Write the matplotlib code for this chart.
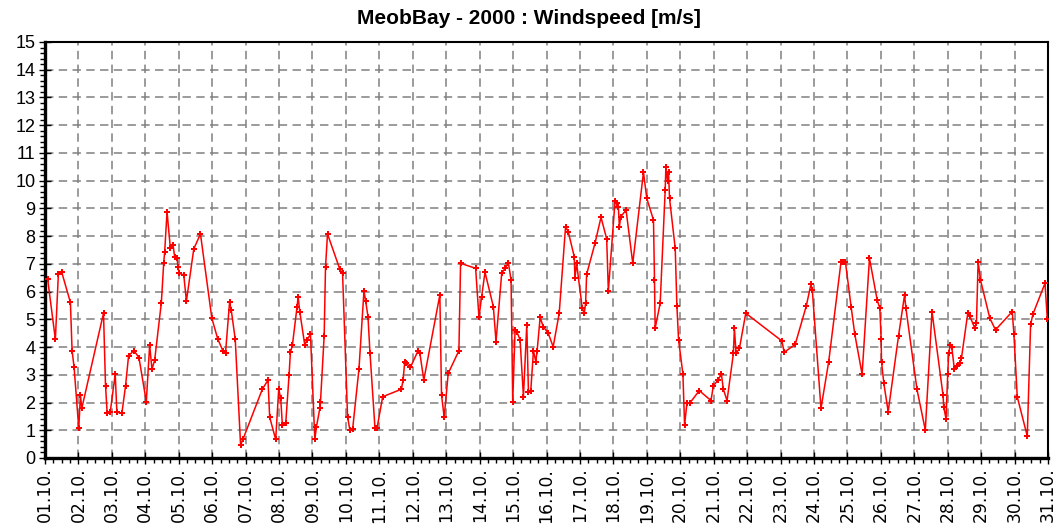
import matplotlib
import matplotlib.pyplot as plt
from matplotlib.ticker import MultipleLocator

matplotlib.use("Agg")

# time in days since 01.10. 00:00, wind speed in m/s
days = [
    0.08, 0.31, 0.40, 0.50, 0.76, 0.81, 0.87, 1.01, 1.06, 1.10,
    1.75, 1.81, 1.86, 1.95, 2.10, 2.15, 2.30, 2.41, 2.50, 2.66,
    2.81, 3.03, 3.13, 3.20, 3.28, 3.48, 3.55, 3.58, 3.65, 3.75,
    3.83, 3.88, 3.95, 3.98, 4.01, 4.15, 4.23, 4.45, 4.65, 4.99,
    5.17, 5.32, 5.40, 5.52, 5.57, 5.69, 5.85, 5.92, 6.50, 6.67,
    6.72, 6.90, 6.99, 7.05, 7.10, 7.20, 7.30, 7.34, 7.40, 7.54,
    7.57, 7.62, 7.77, 7.84, 7.94, 8.07, 8.12, 8.22, 8.24, 8.35,
    8.39, 8.45, 8.82, 8.90, 9.05, 9.12, 9.20, 9.39, 9.54, 9.59,
    9.66, 9.72, 9.87, 9.93, 10.10, 10.66, 10.71, 10.76, 10.81, 10.93,
    11.16, 11.21, 11.33, 11.81, 11.86, 11.94, 12.06, 12.38, 12.43, 12.88,
    12.98, 13.06, 13.16, 13.41, 13.49, 13.66, 13.76, 13.86, 13.94, 13.99,
    14.06, 14.11, 14.21, 14.31, 14.41, 14.46, 14.53, 14.61, 14.68, 14.72,
    14.81, 14.90, 15.05, 15.20, 15.38, 15.57, 15.65, 15.83, 15.85, 15.90,
    16.07, 16.13, 16.17, 16.20, 16.45, 16.63, 16.80, 16.85, 17.05, 17.10,
    17.15, 17.18, 17.22, 17.38, 17.58, 17.90, 18.00, 18.20, 18.23, 18.25,
    18.40, 18.55, 18.57, 18.62, 18.65, 18.68, 18.85, 18.90, 18.95, 19.08,
    19.13, 19.20, 19.28, 19.57, 19.92, 19.99, 20.13, 20.23, 20.29, 20.40,
    20.59, 20.62, 20.67, 20.77, 20.96, 22.04, 22.11, 22.44, 22.77, 22.91,
    22.95, 23.21, 23.44, 23.81, 23.87, 23.94, 24.11, 24.22, 24.44, 24.66,
    24.89, 24.97, 25.01, 25.02, 25.09, 25.22, 25.53, 25.71, 25.75, 26.08,
    26.33, 26.53, 26.86, 26.88, 26.95, 27.00, 27.03, 27.08, 27.12, 27.20,
    27.28, 27.36, 27.41, 27.60, 27.66, 27.81, 27.86, 27.91, 27.98, 28.26,
    28.43, 28.93, 28.98, 29.08, 29.38, 29.48, 29.55, 29.91, 29.98,
]
speed = [
    6.44, 4.28, 6.64, 6.70, 5.61, 3.87, 3.27, 1.07, 2.27, 1.79,
    5.22, 2.61, 1.61, 1.65, 3.02, 1.65, 1.62, 2.61, 3.69, 3.87,
    3.62, 2.03, 4.07, 3.20, 3.53, 5.60, 7.02, 7.44, 8.88, 7.56,
    7.68, 7.24, 7.20, 6.88, 6.66, 6.60, 5.66, 7.54, 8.08, 5.04,
    4.28, 3.87, 3.80, 5.61, 5.34, 4.28, 0.47, 0.67, 2.48, 2.81,
    1.47, 0.67, 2.48, 2.15, 1.19, 1.25, 2.99, 3.81, 4.07, 5.46,
    5.82, 5.28, 4.07, 4.26, 4.47, 0.67, 1.13, 1.79, 2.03, 4.41,
    6.88, 8.08, 6.80, 6.66, 1.47, 1.01, 1.03, 3.20, 6.02, 5.67,
    5.10, 3.80, 1.07, 1.07, 2.21, 2.48, 2.81, 3.47, 3.41, 3.27,
    3.87, 3.80, 2.81, 5.88, 2.27, 1.47, 3.05, 3.87, 7.02, 6.84,
    5.07, 5.82, 6.70, 5.46, 4.20, 6.66, 6.84, 7.04, 6.42, 2.03,
    4.62, 4.56, 4.26, 2.21, 4.80, 2.39, 2.43, 3.87, 3.47, 3.87,
    5.07, 4.74, 4.50, 4.01, 5.22, 8.34, 8.16, 7.26, 6.48, 7.02,
    5.40, 5.22, 5.58, 6.62, 7.74, 8.68, 7.90, 6.02, 9.27, 9.18,
    9.06, 8.34, 8.70, 8.94, 7.02, 10.30, 9.36, 8.58, 6.42, 4.68,
    5.58, 9.66, 10.48, 9.97, 10.30, 9.36, 7.56, 5.49, 4.26, 3.03,
    1.19, 1.97, 1.97, 2.43, 2.07, 2.60, 2.81, 3.03, 2.48, 2.07,
    3.77, 4.68, 3.77, 3.95, 5.22, 4.22, 3.81, 4.10, 5.48, 6.27,
    6.06, 1.79, 3.47, 7.08, 7.08, 7.08, 5.46, 4.47, 3.02, 7.20,
    5.70, 5.40, 4.28, 3.47, 2.69, 1.67, 4.41, 5.88, 5.40, 2.48,
    1.01, 5.28, 2.27, 1.85, 1.41, 3.02, 3.80, 4.07, 4.01, 3.20,
    3.32, 3.44, 3.59, 5.22, 5.12, 4.68, 4.86, 7.08, 6.42, 5.04,
    4.62, 5.28, 4.47, 2.21, 0.79, 4.82, 5.19, 6.30, 5.00,
]
day_labels = [f"{d:02d}.10." for d in range(1, 32)]
y_ticks = list(range(0, 16))


def main() -> None:
    fig = plt.figure(figsize=(10.57, 5.29), dpi=100)
    ax = fig.add_axes([45 / 1057, 1 - 458 / 529, 1003 / 1057, 416 / 529])

    ax.plot(days, speed, color="#ff0000", linewidth=1.1,
            marker="P", markersize=5, markeredgewidth=0, zorder=3)

    ax.set_xlim(0, 30)
    ax.set_ylim(0, 15)
    ax.set_xticks(range(31))
    ax.set_xticklabels(day_labels, rotation=90, fontsize=12.3,
                       family="DejaVu Sans")
    ax.set_yticks(y_ticks)
    ax.set_yticklabels([str(v) for v in y_ticks], fontsize=13,
                       family="Liberation Sans")
    ax.xaxis.set_minor_locator(MultipleLocator(0.25))
    ax.yaxis.set_minor_locator(MultipleLocator(0.2))

    ax.tick_params(which="major", direction="inout", length=8, width=1,
                   pad=3, color="black")
    ax.tick_params(which="minor", direction="out", length=3.5, width=1,
                   color="black")

    ax.grid(True, which="major", color="#808080", linestyle=(0, (5.5, 3.5)),
            linewidth=1.1)

    for side in ["left", "bottom"]:
        ax.spines[side].set_linewidth(2.4)
    for side in ["top", "right"]:
        ax.spines[side].set_linewidth(1.5)

    # title is centred on the whole figure, not on the axes
    fig.suptitle("MeobBay - 2000 : Windspeed [m/s]", x=0.5, y=1 - 19 / 529,
                 va="center", fontsize=15, fontweight="bold",
                 family=["Liberation Sans Narrow", "Liberation Sans"])

    fig.savefig("out.png", dpi=100)


if __name__ == "__main__":
    main()
